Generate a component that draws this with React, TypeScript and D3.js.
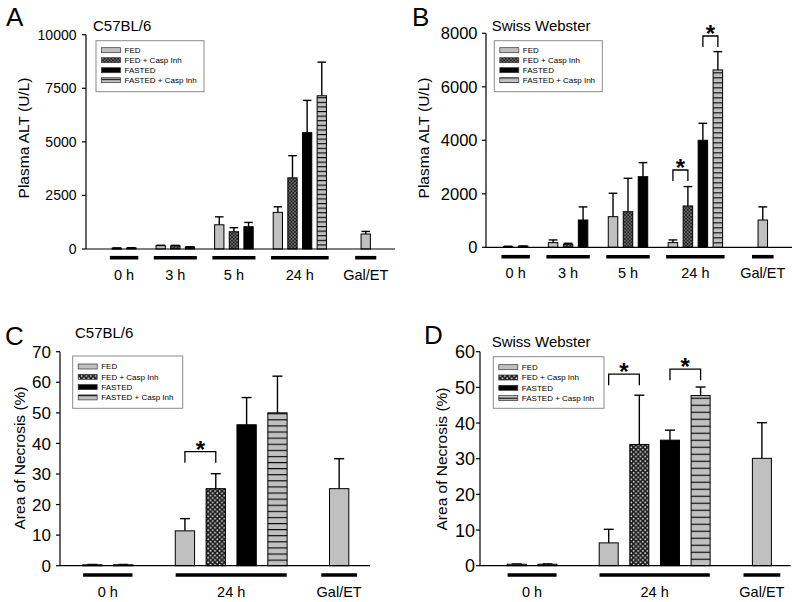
import React from "react";
import * as d3 from "d3";

const SERIES = ["FED", "FED + Casp Inh", "FASTED", "FASTED + Casp Inh"];
const ALT_GROUPS = ["0 h", "3 h", "5 h", "24 h", "Gal/ET"];
const NEC_GROUPS = ["0 h", "24 h", "Gal/ET"];

const A_TICKS = [0, 2500, 5000, 7500, 10000];
const B_TICKS = [0, 2000, 4000, 6000, 8000];
const C_TICKS = [0, 10, 20, 30, 40, 50, 60, 70];
const D_TICKS = [0, 10, 20, 30, 40, 50, 60];

type V = number | null;

// Panel A: C57BL/6, plasma ALT (U/L)
const A_FED: V[] = [40, 155, 1130, 1710, 700];
const A_FED_ERR: V[] = [10, 20, 370, 260, 120];
const A_FEDCASP: V[] = [50, 150, 805, 3320, null];
const A_FEDCASP_ERR: V[] = [10, 20, 190, 1035, null];
const A_FASTED: V[] = [null, 90, 1040, 5430, null];
const A_FASTED_ERR: V[] = [null, 15, 200, 1505, null];
const A_FASTEDCASP: V[] = [null, null, null, 7150, null];
const A_FASTEDCASP_ERR: V[] = [null, null, null, 1570, null];

// Panel B: Swiss Webster, plasma ALT (U/L)
const B_FED: V[] = [30, 175, 1145, 175, 1020];
const B_FED_ERR: V[] = [10, 100, 875, 100, 490];
const B_FEDCASP: V[] = [40, 112, 1330, 1545, null];
const B_FEDCASP_ERR: V[] = [10, 38, 1250, 725, null];
const B_FASTED: V[] = [null, 1020, 2640, 4000, null];
const B_FASTED_ERR: V[] = [null, 490, 525, 635, null];
const B_FASTEDCASP: V[] = [null, null, null, 6630, null];
const B_FASTEDCASP_ERR: V[] = [null, null, null, 685, null];
const B_SIG_GROUP = ["24 h", "24 h"];
const B_SIG_FROM = [0, 2];
const B_SIG_TO = [1, 3];
const B_SIG_LEVEL = [2890, 7900];

// Panel C: C57BL/6, necrosis (%)
const C_FED: V[] = [0.3, 11.4, 25.2];
const C_FED_ERR: V[] = [0.1, 4.0, 9.8];
const C_FEDCASP: V[] = [0.3, 25.2, null];
const C_FEDCASP_ERR: V[] = [0.1, 4.9, null];
const C_FASTED: V[] = [null, 46.1, null];
const C_FASTED_ERR: V[] = [null, 8.9, null];
const C_FASTEDCASP: V[] = [null, 50.0, null];
const C_FASTEDCASP_ERR: V[] = [null, 12.0, null];
const C_SIG_GROUP = ["24 h"];
const C_SIG_FROM = [0];
const C_SIG_TO = [1];
const C_SIG_LEVEL = [37.3];

// Panel D: Swiss Webster, necrosis (%)
const D_FED: V[] = [0.4, 6.4, 30.1];
const D_FED_ERR: V[] = [0.1, 3.8, 10.0];
const D_FEDCASP: V[] = [0.4, 34.0, null];
const D_FEDCASP_ERR: V[] = [0.1, 13.8, null];
const D_FASTED: V[] = [null, 35.2, null];
const D_FASTED_ERR: V[] = [null, 2.8, null];
const D_FASTEDCASP: V[] = [null, 47.7, null];
const D_FASTEDCASP_ERR: V[] = [null, 2.4, null];
const D_SIG_GROUP = ["24 h", "24 h"];
const D_SIG_FROM = [0, 2];
const D_SIG_TO = [1, 3];
const D_SIG_LEVEL = [53.7, 55.1];

const FONT = "Arial, 'Liberation Sans', Helvetica, sans-serif";

interface PanelCfg {
  id: string;
  letter: string;
  letterPos: [number, number];
  subtitle: string;
  subPos: [number, number];
  yTitle: string;
  yTitlePos: [number, number];
  groups: string[];
  means: V[][];
  errs: V[][];
  ticks: number[];
  tickFont: number;
  tickGap: number;
  yMax: number;
  x0: number;
  x1: number;
  yTop: number;
  yBase: number;
  slotDomain: [number, number];
  lastGap: number;
  barW: number;
  stripe: number;
  cross: number;
  pad: number;
  singlePad: number;
  underY: number;
  labelY: number;
  legend: [number, number, number, number];
  legRow0: number;
  legStep: number;
  sigGroup: string[];
  sigFrom: number[];
  sigTo: number[];
  sigLevel: number[];
}

const FILLS = (id: string) => ["#c0c0c0", `url(#cross-${id})`, "#000000", `url(#stripe-${id})`];

function Panel({ c }: { c: PanelCfg }) {
  const y = d3.scaleLinear().domain([0, c.yMax]).range([c.yBase, c.yTop]);
  const x = d3.scaleLinear().domain(c.slotDomain).range([c.x0, c.x1]);
  const fills = FILLS(c.id);

  // assign slots: bars of a group are adjacent, empty slot(s) between groups
  const bars: { slot: number; s: number; v: number; e: number; g: number }[] = [];
  const groupSlots: number[][] = [];
  let slot = 0;
  c.groups.forEach((_, gi) => {
    if (gi > 0) slot += gi === c.groups.length - 1 ? c.lastGap : 1;
    const slots: number[] = [];
    SERIES.forEach((__, si) => {
      const v = c.means[si][gi];
      if (v !== null && v !== undefined) {
        bars.push({ slot, s: si, v, e: (c.errs[si][gi] as number) || 0, g: gi });
        slots.push(slot);
        slot += 1;
      }
    });
    groupSlots.push(slots);
  });

  const capW = Math.min(c.barW * 0.92, 10);
  const [lx, ly, lw, lh] = c.legend;

  return (
    <g>
      <defs>
        <pattern id={`stripe-${c.id}`} patternUnits="userSpaceOnUse" width={8} height={c.stripe} y={c.yBase}>
          <rect width={8} height={c.stripe} fill="#c0c0c0" />
          <rect y={0} width={8} height={1.1} fill="#000" />
        </pattern>
        <pattern id={`cross-${c.id}`} patternUnits="userSpaceOnUse" width={c.cross} height={c.cross}>
          <rect width={c.cross} height={c.cross} fill="#1e1e1e" />
          <circle cx={c.cross * 0.25} cy={c.cross * 0.25} r={c.cross * 0.19} fill="#e8e8e8" />
          <circle cx={c.cross * 0.75} cy={c.cross * 0.75} r={c.cross * 0.19} fill="#e8e8e8" />
        </pattern>
      </defs>

      <text x={c.letterPos[0]} y={c.letterPos[1]} fontFamily={FONT} fontSize={26}>{c.letter}</text>
      <text x={c.subPos[0]} y={c.subPos[1]} fontFamily={FONT} fontSize={15}>{c.subtitle}</text>
      <text
        transform={`translate(${c.yTitlePos[0]},${c.yTitlePos[1]}) rotate(-90)`}
        textAnchor="middle"
        fontFamily={FONT}
        fontSize={15.5}
      >
        {c.yTitle}
      </text>

      {/* bars */}
      {bars.map((b, i) => {
        const cx = x(b.slot);
        const top = y(b.v);
        const et = y(b.v + b.e);
        return (
          <g key={i}>
            <line x1={cx} x2={cx} y1={top} y2={et} stroke="#000" strokeWidth={1.4} />
            <line x1={cx - capW / 2} x2={cx + capW / 2} y1={et} y2={et} stroke="#000" strokeWidth={1.4} />
            <rect
              x={cx - c.barW / 2}
              y={top}
              width={c.barW}
              height={Math.max(c.yBase - top, 1)}
              fill={fills[b.s]}
              stroke="#000"
              strokeWidth={1}
            />
          </g>
        );
      })}

      {/* axes */}
      <line x1={c.x0} x2={c.x0} y1={c.yTop} y2={c.yBase} stroke="#000" strokeWidth={1.2} />
      <line x1={c.x0} x2={c.x1} y1={c.yBase} y2={c.yBase} stroke="#000" strokeWidth={1.2} />
      {c.ticks.map((t) => (
        <g key={t}>
          <line x1={c.x0 - 4} x2={c.x0} y1={y(t)} y2={y(t)} stroke="#000" strokeWidth={1.2} />
          <text x={c.x0 - c.tickGap} y={y(t)} dy="0.36em" textAnchor="end" fontFamily={FONT} fontSize={c.tickFont}>
            {t}
          </text>
        </g>
      ))}

      {/* group underlines */}
      {c.groups.map((g, gi) => {
        const s = groupSlots[gi];
        const a = s.length === 1 ? x(s[0] - c.singlePad) : x(s[0] - c.pad);
        const bEnd = s.length === 1 ? x(s[0] + c.singlePad) : x(s[s.length - 1] + c.pad);
        return (
          <g key={g}>
            <line x1={a} x2={bEnd} y1={c.underY} y2={c.underY} stroke="#000" strokeWidth={3.6} />
            <text x={(a + bEnd) / 2} y={c.labelY} textAnchor="middle" fontFamily={FONT} fontSize={14.5}>
              {g}
            </text>
          </g>
        );
      })}

      {/* significance brackets */}
      {c.sigGroup.map((g, i) => {
        const gi = c.groups.indexOf(g);
        const s = groupSlots[gi];
        const xa = x(s[c.sigFrom[i]]);
        const xb = x(s[c.sigTo[i]]);
        const yl = y(c.sigLevel[i]);
        return (
          <g key={`sig${i}`}>
            <path d={`M${xa},${yl + 11} V${yl} H${xb} V${yl + 11}`} fill="none" stroke="#000" strokeWidth={1.3} />
            <text x={(xa + xb) / 2} y={yl - 8 + 14} textAnchor="middle" fontFamily={FONT} fontSize={24} fontWeight="bold">
              *
            </text>
          </g>
        );
      })}

      {/* legend */}
      <rect x={lx} y={ly} width={lw} height={lh} fill="#fff" stroke="#8a8a8a" strokeWidth={1} />
      {SERIES.map((s, i) => {
        const ry = ly + c.legRow0 + i * c.legStep;
        return (
          <g key={s}>
            <rect x={lx + 5.5} y={ry - 2.5} width={19} height={5} fill={fills[i]} stroke="#333" strokeWidth={0.7} />
            <text x={lx + 28.5} y={ry} dy="0.35em" fontFamily={FONT} fontSize={8}>
              {s}
            </text>
          </g>
        );
      })}
    </g>
  );
}

const panels: PanelCfg[] = [
  {
    id: "A", letter: "A", letterPos: [6, 26], subtitle: "C57BL/6", subPos: [93, 30.7],
    yTitle: "Plasma ALT (U/L)", yTitlePos: [29, 138], groups: ALT_GROUPS,
    means: [A_FED, A_FEDCASP, A_FASTED, A_FASTEDCASP],
    errs: [A_FED_ERR, A_FEDCASP_ERR, A_FASTED_ERR, A_FASTEDCASP_ERR],
    ticks: A_TICKS, tickFont: 14, tickGap: 9.5, yMax: 10000, x0: 86, x1: 395, yTop: 34.7, yBase: 249,
    slotDomain: [-2.1, 19], lastGap: 2, barW: 9.3, stripe: 4.6, cross: 3.4,
    pad: 0.47, singlePad: 0.72, underY: 257.7, labelY: 280,
    legend: [96, 40.7, 108, 51], legRow0: 9.5, legStep: 10,
    sigGroup: [], sigFrom: [], sigTo: [], sigLevel: [],
  },
  {
    id: "B", letter: "B", letterPos: [412, 26], subtitle: "Swiss Webster", subPos: [491.7, 30.7],
    yTitle: "Plasma ALT (U/L)", yTitlePos: [429, 138], groups: ALT_GROUPS,
    means: [B_FED, B_FEDCASP, B_FASTED, B_FASTEDCASP],
    errs: [B_FED_ERR, B_FEDCASP_ERR, B_FASTED_ERR, B_FASTEDCASP_ERR],
    ticks: B_TICKS, tickFont: 16.5, tickGap: 8.5, yMax: 8000, x0: 486, x1: 792, yTop: 33.3, yBase: 247.3,
    slotDomain: [-1.48, 18.95], lastGap: 2, barW: 9.5, stripe: 5, cross: 3.4,
    pad: 0.45, singlePad: 0.72, underY: 256.7, labelY: 278.3,
    legend: [494.3, 40.7, 108, 51], legRow0: 9.5, legStep: 10,
    sigGroup: B_SIG_GROUP, sigFrom: B_SIG_FROM, sigTo: B_SIG_TO, sigLevel: B_SIG_LEVEL,
  },
  {
    id: "C", letter: "C", letterPos: [5, 345], subtitle: "C57BL/6", subPos: [75, 338.3],
    yTitle: "Area of Necrosis (%)", yTitlePos: [24.5, 458], groups: NEC_GROUPS,
    means: [C_FED, C_FEDCASP, C_FASTED, C_FASTEDCASP],
    errs: [C_FED_ERR, C_FEDCASP_ERR, C_FASTED_ERR, C_FASTEDCASP_ERR],
    ticks: C_TICKS, tickFont: 17, tickGap: 9, yMax: 70, x0: 60, x1: 370, yTop: 351.7, yBase: 565.7,
    slotDomain: [-1.05, 9], lastGap: 1, barW: 19.3, stripe: 6.1, cross: 4.6,
    pad: 0.3, singlePad: 0.58, underY: 575, labelY: 597,
    legend: [72.7, 356, 110, 52.3], legRow0: 10.5, legStep: 10.3,
    sigGroup: C_SIG_GROUP, sigFrom: C_SIG_FROM, sigTo: C_SIG_TO, sigLevel: C_SIG_LEVEL,
  },
  {
    id: "D", letter: "D", letterPos: [424, 344], subtitle: "Swiss Webster", subPos: [491.7, 347.3],
    yTitle: "Area of Necrosis (%)", yTitlePos: [447, 459], groups: NEC_GROUPS,
    means: [D_FED, D_FEDCASP, D_FASTED, D_FASTEDCASP],
    errs: [D_FED_ERR, D_FEDCASP_ERR, D_FASTED_ERR, D_FASTEDCASP_ERR],
    ticks: D_TICKS, tickFont: 18, tickGap: 5, yMax: 60, x0: 480, x1: 790.7, yTop: 351.7, yBase: 565.7,
    slotDomain: [-1.2, 8.94], lastGap: 1, barW: 19, stripe: 7, cross: 4.6,
    pad: 0.3, singlePad: 0.6, underY: 575, labelY: 596.7,
    legend: [493.3, 356.7, 110.7, 51.6], legRow0: 10.5, legStep: 10.3,
    sigGroup: D_SIG_GROUP, sigFrom: D_SIG_FROM, sigTo: D_SIG_TO, sigLevel: D_SIG_LEVEL,
  },
];

export default function App() {
  return (
    <svg
      width={800}
      height={602}
      viewBox="0 0 800 602"
      style={{ position: "absolute", left: 0, top: 0, background: "#fff" }}
    >
      <rect width={800} height={602} fill="#fff" />
      {panels.map((p) => (
        <Panel key={p.id} c={p} />
      ))}
    </svg>
  );
}
